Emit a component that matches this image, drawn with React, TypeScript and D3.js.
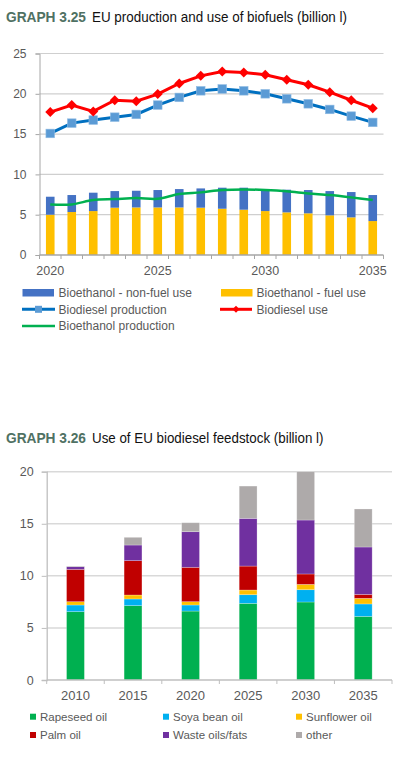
import * as d3 from 'd3'
import { useEffect, useRef } from 'react'

// GRAPH 3.25
const years1 = [
  '2020', '2021', '2022', '2023', '2024', '2025', '2026', '2027',
  '2028', '2029', '2030', '2031', '2032', '2033', '2034', '2035',
]
const ethanolFuel = [5.0, 5.33, 5.45, 5.87, 5.9, 5.9, 5.9, 5.87, 5.74, 5.62, 5.45, 5.29, 5.17, 4.92, 4.67, 4.21]
const ethanolNonFuel = [2.23, 2.11, 2.28, 2.06, 2.07, 2.16, 2.28, 2.39, 2.61, 2.73, 2.73, 2.81, 2.89, 3.01, 3.14, 3.23]
const biodieselProd = [15.08, 16.36, 16.74, 17.1, 17.44, 18.6, 19.55, 20.37, 20.6, 20.37, 20.0, 19.38, 18.76, 18.06, 17.23, 16.45]
const biodieselUse = [17.73, 18.6, 17.81, 19.2, 19.09, 19.96, 21.28, 22.23, 22.77, 22.64, 22.36, 21.74, 21.12, 20.2, 19.2, 18.22]
const ethanolProd = [6.28, 6.28, 6.82, 6.94, 7.07, 6.98, 7.56, 7.77, 8.06, 8.14, 8.06, 7.9, 7.64, 7.44, 7.15, 6.82]
const yTicks1 = [0, 5, 10, 15, 20, 25]
const xLabels1 = ['2020', '2025', '2030', '2035']

// GRAPH 3.26
const years2 = ['2010', '2015', '2020', '2025', '2030', '2035']
const feedstocks = ['Rapeseed oil', 'Soya bean oil', 'Sunflower oil', 'Palm oil', 'Waste oils/fats', 'other']
const rapeseed = [6.56, 7.14, 6.62, 7.36, 7.49, 6.11]
const soya = [0.64, 0.64, 0.58, 0.83, 1.18, 1.19]
const sunflower = [0.32, 0.38, 0.32, 0.45, 0.51, 0.54]
const palm = [3.1, 3.3, 3.3, 2.3, 1.0, 0.38]
const waste = [0.26, 1.5, 3.42, 4.58, 5.18, 4.55]
const other = [0.06, 0.74, 0.86, 3.1, 4.64, 3.65]
const yTicks2 = [0, 5, 10, 15, 20]

const FONT = '"Liberation Sans", Arial, sans-serif'
const GRAY = '#595959'

const App = () => {
  const ref = useRef<SVGSVGElement>(null)

  useEffect(() => {
    const svg = d3.select(ref.current)
    svg.selectAll('*').remove()

    function title(y: number, num: string, rest: string, restLen: number) {
      svg
        .append('text')
        .attr('x', 6)
        .attr('y', y)
        .attr('font-family', FONT)
        .attr('font-weight', 'bold')
        .attr('font-size', 14)
        .attr('fill', '#4f7163')
        .attr('textLength', 80)
        .attr('lengthAdjust', 'spacingAndGlyphs')
        .text(num)
      svg
        .append('text')
        .attr('x', 92)
        .attr('y', y)
        .attr('font-family', FONT)
        .attr('font-size', 14)
        .attr('fill', '#111')
        .attr('textLength', restLen)
        .attr('lengthAdjust', 'spacingAndGlyphs')
        .text(rest)
    }

    // ---------- chart 1 ----------
    title(21.5, 'GRAPH 3.25', 'EU production and use of biofuels (billion l)', 255)

    const x1 = d3.scaleBand<string>().domain(years1).range([39.5, 383.5])
    const y1 = d3.scaleLinear().domain([0, 25]).range([255, 53.5])
    const bw1 = x1.bandwidth()
    const cx1 = (d: string) => (x1(d) ?? 0) + bw1 / 2

    const g1 = svg.append('g')
    g1.selectAll('.grid')
      .data(yTicks1.slice(1))
      .enter()
      .append('line')
      .attr('x1', 39.5)
      .attr('x2', 383.5)
      .attr('y1', (d) => y1(d))
      .attr('y2', (d) => y1(d))
      .attr('stroke', '#cfcfcf')
      .attr('stroke-width', 1.2)

    const yAxis1 = g1
      .append('g')
      .attr('transform', 'translate(39.5,0)')
      .call(d3.axisLeft(y1).tickValues(yTicks1).tickSize(4).tickPadding(9))
    yAxis1.select('.domain').attr('stroke', '#a6a6a6')
    yAxis1.selectAll('line').attr('stroke', '#a6a6a6')
    yAxis1.selectAll('text').attr('font-family', FONT).attr('font-size', 12).attr('fill', GRAY)

    const barW1 = bw1 * 0.4
    g1.selectAll('.fuel')
      .data(ethanolFuel)
      .enter()
      .append('rect')
      .attr('x', (_d, i) => cx1(years1[i]) - barW1 / 2)
      .attr('width', barW1)
      .attr('y', (d) => y1(d))
      .attr('height', (d) => y1(0) - y1(d))
      .attr('fill', '#ffc000')
    g1.selectAll('.nonfuel')
      .data(ethanolNonFuel)
      .enter()
      .append('rect')
      .attr('x', (_d, i) => cx1(years1[i]) - barW1 / 2)
      .attr('width', barW1)
      .attr('y', (d, i) => y1(d + ethanolFuel[i]))
      .attr('height', (d) => y1(0) - y1(d))
      .attr('fill', '#4472c4')

    // x axis
    g1.append('line')
      .attr('x1', 39.5)
      .attr('x2', 383.5)
      .attr('y1', 255)
      .attr('y2', 255)
      .attr('stroke', '#a6a6a6')
      .attr('stroke-width', 1.5)
    g1.selectAll('.xt')
      .data(years1.concat(['end']))
      .enter()
      .append('line')
      .attr('x1', (_d, i) => 39.5 + i * bw1)
      .attr('x2', (_d, i) => 39.5 + i * bw1)
      .attr('y1', 255)
      .attr('y2', 259)
      .attr('stroke', '#a6a6a6')
    g1.selectAll('.xl')
      .data(xLabels1)
      .enter()
      .append('text')
      .attr('x', (d) => cx1(d))
      .attr('y', 275)
      .attr('text-anchor', 'middle')
      .attr('font-family', FONT)
      .attr('font-size', 12.5)
      .attr('fill', GRAY)
      .text((d) => d)

    // lines
    const line = (curve: d3.CurveFactory) =>
      d3
        .line<number>()
        .x((_d, i) => cx1(years1[i]))
        .y((d) => y1(d))
        .curve(curve)

    g1.append('path')
      .attr('d', line(d3.curveCatmullRom)(ethanolProd))
      .attr('fill', 'none')
      .attr('stroke', '#00b050')
      .attr('stroke-width', 2.5)

    g1.append('path')
      .attr('d', line(d3.curveLinear)(biodieselProd))
      .attr('fill', 'none')
      .attr('stroke', '#0070c0')
      .attr('stroke-width', 3)
    g1.selectAll('.sq')
      .data(biodieselProd)
      .enter()
      .append('rect')
      .attr('x', (_d, i) => cx1(years1[i]) - 4.3)
      .attr('y', (d) => y1(d) - 4.3)
      .attr('width', 8.6)
      .attr('height', 8.6)
      .attr('fill', '#5b9bd5')
      .attr('stroke', '#8fbbe3')
      .attr('stroke-width', 0.6)

    g1.append('path')
      .attr('d', line(d3.curveLinear)(biodieselUse))
      .attr('fill', 'none')
      .attr('stroke', '#ff0000')
      .attr('stroke-width', 3)
    const diamond = (cx: number, cy: number, r: number) =>
      `M${cx},${cy - r}L${cx + r},${cy}L${cx},${cy + r}L${cx - r},${cy}Z`
    g1.selectAll('.dm')
      .data(biodieselUse)
      .enter()
      .append('path')
      .attr('d', (d, i) => diamond(cx1(years1[i]), y1(d), 5))
      .attr('fill', '#ff0000')

    // legend 1
    const leg1 = svg.append('g').attr('font-family', FONT).attr('font-size', 12).attr('fill', GRAY)
    const legText = (x: number, y: number, t: string) =>
      leg1.append('text').attr('x', x).attr('y', y).attr('dy', '0.35em').text(t)
    leg1.append('rect').attr('x', 22.5).attr('y', 289).attr('width', 31.5).attr('height', 7.5).attr('fill', '#4472c4')
    legText(58.5, 292.7, 'Bioethanol - non-fuel use')
    leg1.append('rect').attr('x', 221).attr('y', 289).attr('width', 31.5).attr('height', 7.5).attr('fill', '#ffc000')
    legText(256.5, 292.7, 'Bioethanol - fuel use')
    leg1.append('line').attr('x1', 22).attr('x2', 55).attr('y1', 309.3).attr('y2', 309.3).attr('stroke', '#0070c0').attr('stroke-width', 3)
    leg1.append('rect').attr('x', 35).attr('y', 305.8).attr('width', 7).attr('height', 7).attr('fill', '#5b9bd5')
    legText(58.5, 309.3, 'Biodiesel production')
    leg1.append('line').attr('x1', 220).attr('x2', 252).attr('y1', 309.3).attr('y2', 309.3).attr('stroke', '#ff0000').attr('stroke-width', 3)
    leg1.append('path').attr('d', diamond(236, 309.3, 3.5)).attr('fill', '#ff0000')
    legText(256.5, 309.3, 'Biodiesel use')
    leg1.append('line').attr('x1', 22).attr('x2', 55).attr('y1', 326).attr('y2', 326).attr('stroke', '#00b050').attr('stroke-width', 2.5)
    legText(58.5, 326, 'Bioethanol production')

    // ---------- chart 2 ----------
    title(442.5, 'GRAPH 3.26', 'Use of EU biodiesel feedstock (billion l)', 231.5)

    const x2 = d3.scaleBand<string>().domain(years2).range([46.7, 392])
    const y2 = d3.scaleLinear().domain([0, 20]).range([680, 471.7])
    const bw2 = x2.bandwidth()
    const cx2 = (d: string) => (x2(d) ?? 0) + bw2 / 2

    const g2 = svg.append('g')
    g2.selectAll('.grid')
      .data(yTicks2.slice(1))
      .enter()
      .append('line')
      .attr('x1', 46.7)
      .attr('x2', 392)
      .attr('y1', (d) => y2(d))
      .attr('y2', (d) => y2(d))
      .attr('stroke', '#d9d9d9')
      .attr('stroke-width', 1.5)

    const yAxis2 = g2
      .append('g')
      .attr('transform', 'translate(46.7,0)')
      .call(d3.axisLeft(y2).tickValues(yTicks2).tickSize(5).tickPadding(8))
    yAxis2.select('.domain').attr('stroke', '#bfbfbf').attr('stroke-width', 1.3)
    yAxis2.selectAll('line').attr('stroke', '#bfbfbf')
    yAxis2.selectAll('text').attr('font-family', FONT).attr('font-size', 12.5).attr('fill', GRAY)

    const colors2 = ['#00b050', '#00b0f0', '#ffc000', '#c00000', '#7030a0', '#aeaaaa']
    const table = years2.map((year, i) => ({
      year,
      'Rapeseed oil': rapeseed[i],
      'Soya bean oil': soya[i],
      'Sunflower oil': sunflower[i],
      'Palm oil': palm[i],
      'Waste oils/fats': waste[i],
      other: other[i],
    }))
    const stacked = d3.stack<any>().keys(feedstocks)(table)
    const barW2 = bw2 * 0.31
    stacked.forEach((layer, k) => {
      g2.selectAll('.s' + k)
        .data(layer)
        .enter()
        .append('rect')
        .attr('x', (d) => cx2(d.data.year) - barW2 / 2)
        .attr('width', barW2)
        .attr('y', (d) => y2(d[1]))
        .attr('height', (d) => y2(d[0]) - y2(d[1]))
        .attr('fill', colors2[k])
        .attr('stroke', '#ffffff')
        .attr('stroke-opacity', 0.35)
        .attr('stroke-width', 0.7)
    })

    g2.append('line')
      .attr('x1', 46.7)
      .attr('x2', 392)
      .attr('y1', 680)
      .attr('y2', 680)
      .attr('stroke', '#bfbfbf')
      .attr('stroke-width', 1.3)
    g2.selectAll('.xt')
      .data(years2.concat(['end']))
      .enter()
      .append('line')
      .attr('x1', (_d, i) => 46.7 + i * bw2)
      .attr('x2', (_d, i) => 46.7 + i * bw2)
      .attr('y1', 680)
      .attr('y2', 684)
      .attr('stroke', '#bfbfbf')
    g2.selectAll('.xl')
      .data(years2)
      .enter()
      .append('text')
      .attr('x', (d) => cx2(d))
      .attr('y', 700)
      .attr('text-anchor', 'middle')
      .attr('font-family', FONT)
      .attr('font-size', 13)
      .attr('fill', GRAY)
      .text((d) => d)

    // legend 2
    const leg2 = svg.append('g').attr('font-family', FONT).attr('font-size', 11.5).attr('fill', GRAY)
    const cols = [30, 163, 296]
    const rows = [716.7, 735]
    feedstocks.forEach((name, i) => {
      const x = cols[i % 3]
      const y = rows[Math.floor(i / 3)]
      leg2.append('rect').attr('x', x).attr('y', y - 3).attr('width', 6).attr('height', 6).attr('fill', colors2[i])
      leg2.append('text').attr('x', x + 10).attr('y', y).attr('dy', '0.35em').text(name)
    })
  }, [])

  return (
    <svg
      ref={ref}
      width={396}
      height={759}
      style={{ position: 'absolute', left: 0, top: 0, background: '#fff' }}
    />
  )
}

export default App
